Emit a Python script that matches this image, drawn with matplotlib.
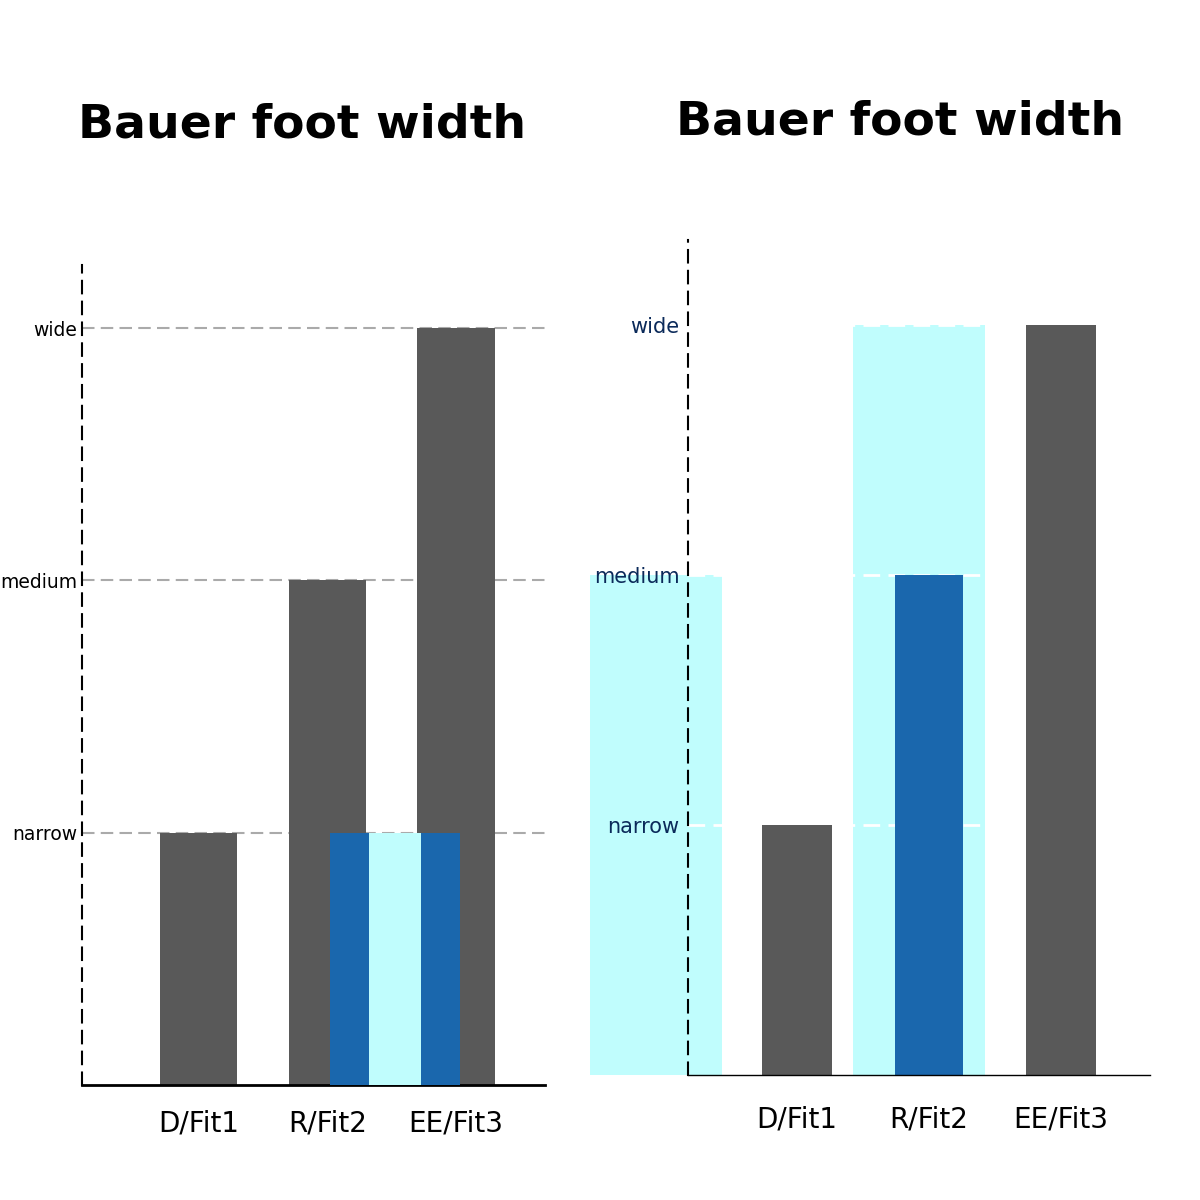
import matplotlib
matplotlib.use("Agg")
import matplotlib.pyplot as plt

categories = ["D/Fit1", "R/Fit2", "EE/Fit3"]
width_levels = ["narrow", "medium", "wide"]
level_values = [1, 2, 3]
fit_widths = [1, 2, 3]          # gray/blue bars
overlay_blue = 1                # left-panel blue overlay height
overlay_cyan = 1                # left-panel cyan overlay height
highlight_spans = [2, 3]        # right-panel cyan highlight heights
title = "Bauer foot width"

GRAY = "#595959"
BLUE = "#1a67ad"
CYAN = "#c0fdfd"

fig = plt.figure(figsize=(12, 12), dpi=100)

# ---------------- left panel ----------------
axL = fig.add_axes([0.068, 0.096, 0.386, 0.683])
xl = list(range(len(categories)))
axL.set_xlim(-0.91, 2.69)
axL.set_ylim(0, 3.25)
for v in level_values:
    axL.axhline(v, color="#aaaaaa", lw=1.5, ls=(0, (6, 3)), zorder=0.5)
axL.bar(xl, fit_widths, width=0.6, color=GRAY, zorder=2)
axL.bar([1.525], [overlay_blue], width=1.01, color=BLUE, zorder=3)
axL.bar([1.525], [overlay_cyan], width=0.4, color=CYAN, zorder=4)
axL.set_yticks(level_values)
axL.set_yticklabels(width_levels, fontsize=13.5)
axL.set_xticks(xl)
axL.set_xticklabels(categories, fontsize=20)
axL.tick_params(axis="y", length=0, pad=3)
axL.tick_params(axis="x", length=0, pad=18)
for s in ["top", "right"]:
    axL.spines[s].set_visible(False)
axL.spines["left"].set_linestyle((0, (6, 4)))
axL.spines["left"].set_linewidth(1.5)
axL.spines["bottom"].set_linewidth(2)
axL.set_title(title, fontsize=34, fontweight="bold", pad=92, x=0.475)

# ---------------- right panel ----------------
axR = fig.add_axes([0.573, 0.104, 0.385, 0.696])
xr = list(range(len(categories)))
axR.set_xlim(-0.83, 2.67)
axR.set_ylim(0, 3.34)
axR.bar([-1.07], [highlight_spans[0]], width=1.0, color=CYAN, zorder=1, clip_on=False)
axR.bar([0.92], [highlight_spans[1]], width=1.0, color=CYAN, zorder=1)
for v in level_values:
    axR.axhline(v, color="white", lw=2, ls=(0, (6, 3)), zorder=1.5)
axR.bar([xr[0], xr[2]], [fit_widths[0], fit_widths[2]], width=0.53, color=GRAY, zorder=2)
axR.bar([xr[1]], [fit_widths[1]], width=0.52, color=BLUE, zorder=2)
axR.set_yticks(level_values)
axR.set_yticklabels(width_levels, fontsize=15, color="#0b2a5a")
axR.set_xticks(xr)
axR.set_xticklabels(categories, fontsize=20)
axR.tick_params(axis="y", length=0, pad=6)
axR.tick_params(axis="x", length=0, pad=22)
for s in ["top", "right"]:
    axR.spines[s].set_visible(False)
axR.spines["left"].set_linestyle((0, (6, 4)))
axR.spines["left"].set_linewidth(1.5)
axR.spines["bottom"].set_linewidth(1)
axR.spines["left"].set_zorder(3)
axR.set_title(title, fontsize=34, fontweight="bold", pad=76, x=0.46)

fig.savefig("out.png", dpi=100)
